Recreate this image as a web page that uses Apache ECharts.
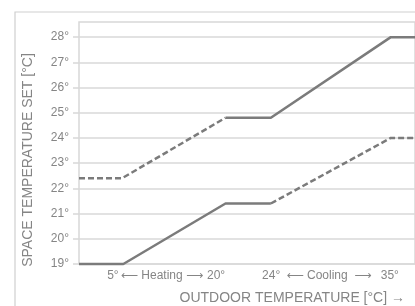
<!DOCTYPE html>
<html>
<head>
<meta charset="utf-8">
<script src="https://cdn.jsdelivr.net/npm/echarts@6/dist/echarts.min.js"></script>
<style>
  html, body { margin: 0; padding: 0; background: #fff; }
  #chart { width: 415px; height: 306px; }
</style>
</head>
<body>
<div id="chart"></div>
<script>
// x is a schematic position (0..100) along the outdoor axis, y is space temperature in degC
var lowSolid = [[0, 19], [13.2, 19], [43.6, 21.4], [57.1, 21.4]];
var lowDashed = [[57.1, 21.4], [92.8, 24], [100, 24]];
var highDashed = [[0, 22.4], [12.8, 22.4], [43.6, 24.8]];
var highSolid = [[43.6, 24.8], [57.1, 24.8], [92.8, 28], [100, 28]];

var yTicks = [19, 20, 21, 22, 23, 24, 25, 26, 27, 28];
var xLabels = ['5°', '⟵ Heating ⟶', '20°', '24°', '⟵ Cooling  ⟶', '35°'];
var xLabelPos = [10.1, 24.7, 40.8, 57.2, 74.4, 92.5];

var lineColor = '#7b7b7b';
var gridColor = '#d8d8d8';
var textColor = '#858585';
var font = 'Liberation Sans, Arial, DejaVu Sans, sans-serif';

function lineSeries(data, type) {
  return {
    type: 'line',
    data: data,
    symbol: 'none',
    clip: false,
    silent: true,
    lineStyle: { color: lineColor, width: 2.5, type: type === 'dashed' ? [6, 3] : 'solid' }
  };
}

var chart = echarts.init(document.getElementById('chart'));
chart.setOption({
  animation: false,
  backgroundColor: '#fff',
  grid: {
    left: 79, top: 22, right: -10, bottom: 42,
    show: true, borderColor: gridColor, borderWidth: 1.5
  },
  xAxis: {
    type: 'value', min: 0, max: 100,
    axisLine: { show: false },
    axisTick: { show: false },
    splitLine: { show: false },
    axisLabel: {
      customValues: xLabelPos,
      margin: 6,
      color: textColor,
      fontSize: 12,
      fontFamily: font,
      formatter: function (v) { return xLabels[xLabelPos.indexOf(v)]; }
    }
  },
  yAxis: {
    type: 'value', min: 19, max: 28.6, interval: 1,
    axisLine: { show: false },
    axisTick: { show: true, customValues: yTicks, length: 6, lineStyle: { color: gridColor, width: 1.5 } },
    splitLine: { lineStyle: { color: gridColor, width: 1.5 } },
    axisLabel: {
      customValues: yTicks,
      margin: 10,
      color: textColor,
      fontSize: 12,
      fontFamily: font,
      formatter: function (v) { return v + '°'; }
    }
  },
  graphic: [
    {
      type: 'rect', silent: true,
      shape: { x: 15, y: 12, width: 500, height: 400 },
      style: { fill: 'none', stroke: '#cfcfcf', lineWidth: 1.2 }
    },
    {
      type: 'text', silent: true,
      x: 28, y: 160, rotation: Math.PI / 2,
      style: {
        text: 'SPACE TEMPERATURE SET [°C]', fill: textColor,
        font: '14px ' + font, align: 'center', verticalAlign: 'middle'
      }
    },
    {
      type: 'text', silent: true,
      x: 405, y: 298,
      style: {
        text: 'OUTDOOR TEMPERATURE [°C] →', fill: textColor,
        font: '14px ' + font, align: 'right', verticalAlign: 'middle'
      }
    }
  ],
  series: [
    lineSeries(lowSolid, 'solid'),
    lineSeries(lowDashed, 'dashed'),
    lineSeries(highDashed, 'dashed'),
    lineSeries(highSolid, 'solid')
  ]
});
</script>
</body>
</html>
